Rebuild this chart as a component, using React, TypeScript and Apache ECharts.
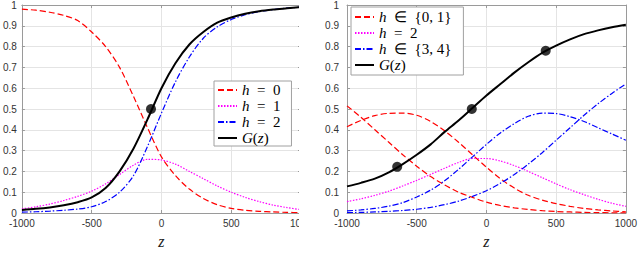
import React, { useEffect, useRef } from "react";
import * as echarts from "echarts";

const Z = [-1000, -900, -800, -700, -600, -500, -400, -300, -200, -100, 0, 100, 200, 300, 400, 500, 600, 700, 800, 900, 1000];

// Left panel
const L_H0 = [0.98, 0.975, 0.965, 0.95, 0.925, 0.87, 0.8, 0.7, 0.56, 0.41, 0.27, 0.18, 0.115, 0.07, 0.04, 0.022, 0.013, 0.008, 0.005, 0.003, 0.002];
const L_H1 = [0.02, 0.03, 0.043, 0.06, 0.08, 0.105, 0.14, 0.185, 0.23, 0.258, 0.255, 0.235, 0.2, 0.165, 0.13, 0.1, 0.075, 0.055, 0.038, 0.026, 0.016];
const L_H2 = [0.004, 0.006, 0.009, 0.013, 0.019, 0.03, 0.055, 0.1, 0.18, 0.32, 0.48, 0.63, 0.75, 0.84, 0.895, 0.93, 0.953, 0.968, 0.978, 0.985, 0.99];
const L_G = [0.015, 0.02, 0.027, 0.037, 0.052, 0.075, 0.12, 0.2, 0.31, 0.45, 0.6, 0.72, 0.81, 0.87, 0.915, 0.94, 0.958, 0.97, 0.978, 0.984, 0.99];
const L_DOTS: [number, number][] = [[-75, 0.5]];

// Right panel
const R_RED_A = [0.515, 0.46, 0.4, 0.34, 0.28, 0.225, 0.175, 0.135, 0.1, 0.075, 0.052, 0.036, 0.025, 0.017, 0.011, 0.007, 0.005, 0.003, 0.002, 0.001, 0.001];
const R_RED_B = [0.415, 0.445, 0.468, 0.479, 0.48, 0.47, 0.44, 0.395, 0.34, 0.28, 0.22, 0.165, 0.12, 0.085, 0.062, 0.045, 0.032, 0.022, 0.015, 0.01, 0.006];
const R_MAG = [0.055, 0.068, 0.085, 0.105, 0.13, 0.157, 0.186, 0.215, 0.243, 0.262, 0.262, 0.25, 0.228, 0.2, 0.17, 0.14, 0.112, 0.088, 0.066, 0.047, 0.032];
const R_BLUE_A = [0.002, 0.003, 0.005, 0.008, 0.012, 0.018, 0.027, 0.04, 0.057, 0.08, 0.107, 0.143, 0.185, 0.235, 0.29, 0.35, 0.41, 0.47, 0.525, 0.575, 0.62];
const R_BLUE_B = [0.01, 0.015, 0.022, 0.033, 0.05, 0.077, 0.11, 0.155, 0.21, 0.27, 0.33, 0.385, 0.43, 0.465, 0.48, 0.478, 0.463, 0.44, 0.41, 0.38, 0.35];
const R_G = [0.128, 0.145, 0.165, 0.195, 0.235, 0.28, 0.33, 0.39, 0.445, 0.505, 0.565, 0.62, 0.675, 0.725, 0.77, 0.805, 0.835, 0.86, 0.878, 0.893, 0.905];
const R_DOTS: [number, number][] = [[-640, 0.222], [-105, 0.5], [425, 0.78]];

const LEGEND_TEXT: Record<string, string> = {
  L0: "{i|h}  =  0",
  L1: "{i|h}  =  1",
  L2: "{i|h}  =  2",
  LG: "{i|G}({i|z})",
  R01: "{i|h}  ∈  {0, 1}",
  R2: "{i|h}  =  2",
  R34: "{i|h}  ∈  {3, 4}",
  RG: "{i|G}({i|z})",
};

const SERIF = "Liberation Serif";
const SANS = "Liberation Sans";

const pairs = (vals: number[]) => Z.map((z, i) => [z, vals[i]]);

const RED = "#ff0000";
const MAG = "#ff00ff";
const BLUE = "#0000ff";
const DASH = [6, 3];
const DOT = [1.5, 1.5];
const DASHDOT = [6, 2, 1.5, 2];

function line(name: string, vals: number[], color: string, dash: any, width: number, axis: number) {
  return {
    type: "line",
    name,
    xAxisIndex: axis,
    yAxisIndex: axis,
    data: pairs(vals),
    showSymbol: false,
    symbol: "none",
    smooth: 0.3,
    lineStyle: { color, width, type: dash },
    itemStyle: { color },
    silent: true,
  };
}

function axesFor(grid: number, labelMargin: number) {
  const axisLine = { show: true, onZero: false, lineStyle: { color: "#9a9a9a", width: 1 } };
  const tick = { show: true, inside: true, length: 3, lineStyle: { color: "#9a9a9a" } };
  const x = [
    {
      type: "value",
      gridIndex: grid,
      min: -1000,
      max: 1000,
      interval: 500,
      position: "bottom",
      axisLine,
      axisTick: tick,
      axisLabel: { color: "#333", fontFamily: SANS, fontSize: 10, lineHeight: 10, margin: 5, formatter: (v: number) => String(v) },
      splitLine: { show: true, lineStyle: { color: "#e4e4e4", width: 1 } },
      name: "z",
      nameLocation: "middle",
      nameGap: 20,
      nameTextStyle: { fontFamily: SERIF, fontStyle: "italic", fontSize: 16, color: "#222" },
    },
    {
      type: "value",
      gridIndex: grid,
      min: -1000,
      max: 1000,
      interval: 500,
      position: "top",
      axisLine,
      axisTick: tick,
      axisLabel: { show: false },
      splitLine: { show: false },
    },
  ];
  const y = [
    {
      type: "value",
      gridIndex: grid,
      min: 0,
      max: 1,
      interval: 0.1,
      position: "left",
      axisLine,
      axisTick: tick,
      axisLabel: { color: "#333", fontFamily: SANS, fontSize: 10, lineHeight: 10, margin: labelMargin, formatter: (v: number) => String(Math.round(v * 10) / 10) },
      splitLine: { show: true, lineStyle: { color: "#e4e4e4", width: 1 } },
    },
    {
      type: "value",
      gridIndex: grid,
      min: 0,
      max: 1,
      interval: 0.1,
      position: "right",
      axisLine,
      axisTick: tick,
      axisLabel: { show: false },
      splitLine: { show: false },
    },
  ];
  return { x, y };
}

export default function App() {
  const ref = useRef<HTMLDivElement>(null);
  useEffect(() => {
    if (!ref.current) return;
    const chart = echarts.init(ref.current, undefined, { renderer: "svg" });
    const a0 = axesFor(0, 5);
    const a1 = axesFor(1, 8);
    const legendText = {
      fontFamily: SERIF,
      fontSize: 15,
      color: "#000",
      lineHeight: 16,
      rich: {
        i: { fontFamily: SERIF, fontStyle: "italic", fontSize: 15, color: "#000", lineHeight: 16 },
      },
    };
    const legendCommon = {
      orient: "vertical",
      itemWidth: 19,
      itemHeight: 12,
      itemGap: 0,
      borderColor: "#a0a0a0",
      borderWidth: 1,
      backgroundColor: "#ffffff",
      borderRadius: 0,
      itemStyle: { opacity: 0 },
      formatter: (n: string) => LEGEND_TEXT[n] ?? n,
      textStyle: legendText,
      selectedMode: false,
    };
    chart.setOption({
      animation: false,
      backgroundColor: "#ffffff",
      grid: [
        { left: 17, top: 4, width: 284, height: 222 },
        { left: 347, top: 4, width: 282, height: 222 },
      ],
      xAxis: [...a0.x, ...a1.x],
      yAxis: [...a0.y, ...a1.y],
      legend: [
        { ...legendCommon, left: 214, top: 81, padding: [1, 11, 0, 3], data: ["L0", "L1", "L2", "LG"] },
        { ...legendCommon, left: 351, top: 7, padding: [2, 12, 2, 3], data: ["R01", "R2", "R34", "RG"] },
      ],
      series: [
        line("L0", L_H0, RED, DASH, 1.2, 0),
        line("L1", L_H1, MAG, DOT, 1.2, 0),
        line("L2", L_H2, BLUE, DASHDOT, 1.2, 0),
        line("LG", L_G, "#000", "solid", 2, 0),
        {
          type: "scatter",
          xAxisIndex: 0,
          yAxisIndex: 0,
          data: L_DOTS,
          symbolSize: 10,
          itemStyle: { color: "#000" },
          silent: true,
        },
        line("R01", R_RED_A, RED, DASH, 1.2, 2),
        line("R01", R_RED_B, RED, DASH, 1.2, 2),
        line("R2", R_MAG, MAG, DOT, 1.2, 2),
        line("R34", R_BLUE_A, BLUE, DASHDOT, 1.2, 2),
        line("R34", R_BLUE_B, BLUE, DASHDOT, 1.2, 2),
        line("RG", R_G, "#000", "solid", 2, 2),
        {
          type: "scatter",
          xAxisIndex: 2,
          yAxisIndex: 2,
          data: R_DOTS,
          symbolSize: 10,
          itemStyle: { color: "#000" },
          silent: true,
        },
      ],
      graphic: [
        {
          type: "rect",
          z: 1000,
          shape: { x: 299, y: 0, width: 20, height: 254 },
          style: { fill: "#ffffff" },
          silent: true,
        },
      ],
    });
    return () => chart.dispose();
  }, []);
  return (
    <div
      ref={ref}
      style={{ position: "fixed", left: 0, top: 0, width: 640, height: 254, background: "#fff" }}
    />
  );
}
